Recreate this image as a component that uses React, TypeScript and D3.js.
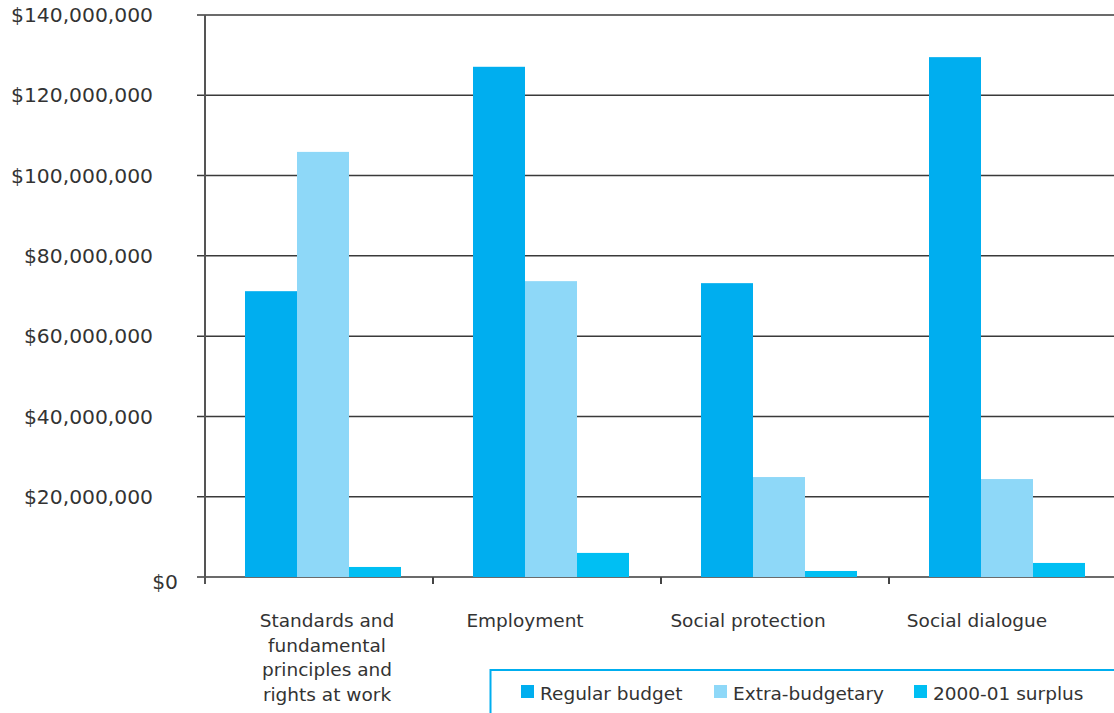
import React from "react";
import * as d3 from "d3";

const categories = [
  ["Standards and", "fundamental", "principles and", "rights at work"],
  ["Employment"],
  ["Social protection"],
  ["Social dialogue"],
];
const seriesNames = ["Regular budget", "Extra-budgetary", "2000-01 surplus"];
const regularBudget = [71200000, 127100000, 73200000, 129500000];
const extraBudgetary = [105900000, 73700000, 24900000, 24400000];
const surplus = [2500000, 6000000, 1500000, 3500000];
const yTicks = [0, 20000000, 40000000, 60000000, 80000000, 100000000, 120000000, 140000000];
const colors = ["#00AEEF", "#8ED8F8", "#00BFF3"];

const W = 1114, H = 713;
const left = 205, right = 1117, top = 15, bottom = 577;
const font = "'DejaVu Sans', sans-serif";
// label centre offsets relative to band start (layout only)
const labelOffsets = [122, 92, 87, 88];

export default function App() {
  const series = [regularBudget, extraBudgetary, surplus];
  const y = d3.scaleLinear().domain([0, 140000000]).range([bottom, top]);
  const x0 = d3.scaleBand<number>().domain(d3.range(categories.length)).range([left, right]).paddingInner(0).paddingOuter(0);
  const bw = x0.bandwidth();
  const x1 = d3.scaleBand<number>().domain(d3.range(series.length)).range([40, 40 + 156]).padding(0);
  const fmt = (v: number) => "$" + d3.format(",")(v);

  return (
    <svg width={W} height={H} style={{ position: "absolute", left: 0, top: 0, background: "#fff" }}>
      {yTicks.map((t) => (
        <g key={t}>
          <line x1={197} x2={W} y1={y(t)} y2={y(t)} stroke="#3a3a3a" strokeWidth={1.5} />
          <text
            x={t === 0 ? 178 : 153}
            y={t === 0 ? y(t) + 5 : y(t)}
            dy="0.35em"
            textAnchor="end"
            fontFamily={font}
            fontSize={20.3}
            fill="#333"
          >
            {fmt(t)}
          </text>
        </g>
      ))}
      {categories.map((c, i) =>
        series.map((s, j) => (
          <rect
            key={i + "-" + j}
            x={(x0(i) as number) + (x1(j) as number)}
            y={y(s[i])}
            width={x1.bandwidth()}
            height={bottom - y(s[i])}
            fill={colors[j]}
          />
        ))
      )}
      <line x1={left} x2={left} y1={top} y2={bottom + 7} stroke="#555" strokeWidth={2} />
      {d3.range(1, categories.length + 1).map((i) => (
        <line key={i} x1={left + bw * i} x2={left + bw * i} y1={bottom} y2={bottom + 7} stroke="#444" strokeWidth={2} />
      ))}
      {categories.map((c, i) => (
        <text key={i} textAnchor="middle" fontFamily={font} fontSize={18.5} fill="#333">
          {c.map((ln, k) => (
            <tspan key={k} x={(x0(i) as number) + labelOffsets[i]} y={627 + k * 24.7}>
              {ln}
            </tspan>
          ))}
        </text>
      ))}
      <rect x={490.5} y={670} width={W} height={60} fill="#fff" stroke="#00AEEF" strokeWidth={2} />
      {seriesNames.map((n, j) => {
        const lx = [521, 714, 914][j];
        return (
          <g key={n}>
            <rect x={lx} y={685} width={13} height={13} fill={colors[j]} />
            <text x={lx + 19} y={700} fontFamily={font} fontSize={18.5} fill="#333">
              {n}
            </text>
          </g>
        );
      })}
    </svg>
  );
}
